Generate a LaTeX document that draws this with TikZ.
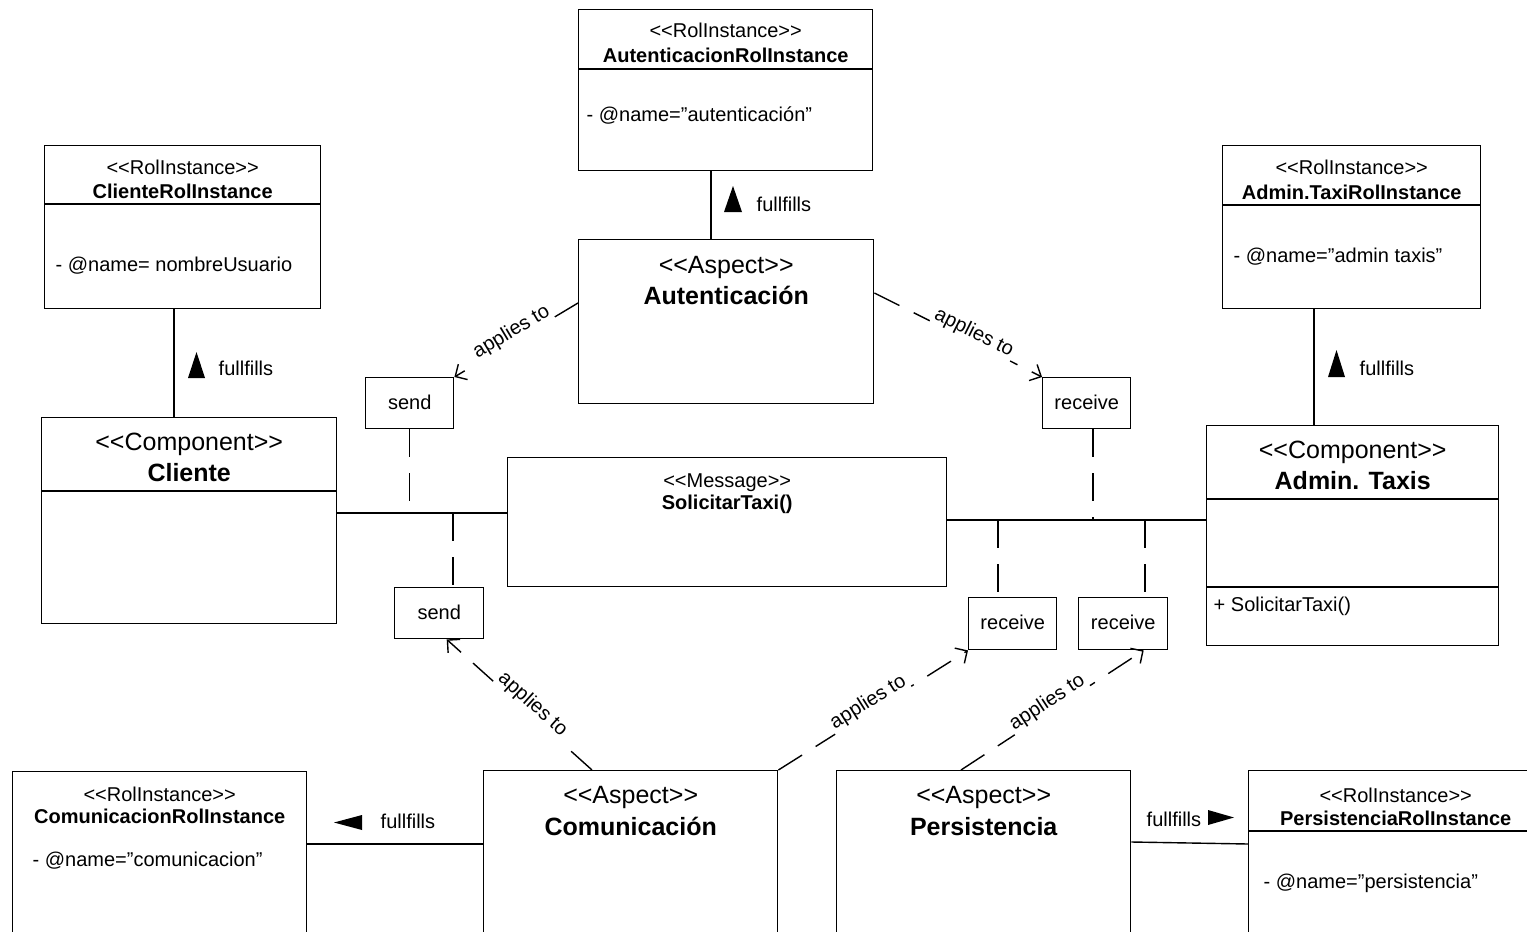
\documentclass[tikz,border=0pt]{standalone}
\usepackage{fontspec}
\setmainfont{Liberation Sans}[Ligatures=TeXOff]
\usetikzlibrary{arrows.meta,calc}
\begin{document}
\begin{tikzpicture}[x=1pt,y=-1pt,line width=1.4pt,
  box/.style={draw, rectangle, anchor=north west, inner sep=0pt},
  sm/.style={font=\fontsize{20}{24}\selectfont, inner sep=0pt},
  smb/.style={font=\fontsize{20}{24}\selectfont\bfseries, inner sep=0pt},
  bg/.style={font=\fontsize{25}{30}\selectfont, inner sep=0pt},
  bgb/.style={font=\fontsize{25}{30}\selectfont\bfseries, inner sep=0pt},
  dsh/.style={dash pattern=on 28pt off 16pt},
  appl/.style={dsh, -{Straight Barb[length=9pt,width=18pt]}},
  lbl/.style={font=\fontsize{20}{24}\selectfont, sloped, fill=white, inner sep=2pt, above=-3pt}
]
\useasboundingbox (0,0) rectangle (1527,932);
\fill[white] (0,0) rectangle (1527,932);
\clip (0,0) rectangle (1527,932);

% ---------- boxes ----------
\node[box, minimum width=294pt, minimum height=161pt] (autri) at (578,9) {};
\node[box, minimum width=276pt, minimum height=163pt] (clri) at (44,145) {};
\node[box, minimum width=258pt, minimum height=163pt] (admri) at (1222,145) {};
\node[box, minimum width=295pt, minimum height=164pt] (autasp) at (578,239) {};
\node[box, minimum width=88pt, minimum height=51pt] (send1) at (365,377) {};
\node[box, minimum width=88pt, minimum height=51pt] (recv1) at (1042,377) {};
\node[box, minimum width=295pt, minimum height=206pt] (cli) at (41,417) {};
\node[box, minimum width=439pt, minimum height=129pt] (msg) at (507,457) {};
\node[box, minimum width=292pt, minimum height=220pt] (adm) at (1206,425) {};
\node[box, minimum width=89pt, minimum height=51pt] (send2) at (394,587) {};
\node[box, minimum width=88pt, minimum height=52pt] (recv2) at (968,597) {};
\node[box, minimum width=89pt, minimum height=52pt] (recv3) at (1078,597) {};
\node[box, minimum width=294pt, minimum height=200pt] (comri) at (12,771) {};
\node[box, minimum width=294pt, minimum height=200pt] (comasp) at (483,770) {};
\node[box, minimum width=294pt, minimum height=200pt] (perasp) at (836,770) {};
\node[box, minimum width=294pt, minimum height=200pt] (perri) at (1248,770) {};

% ---------- separators ----------
\draw ([yshift=-60pt]autri.north west) -- ([yshift=-60pt]autri.north east);
\draw ([yshift=-59pt]clri.north west) -- ([yshift=-59pt]clri.north east);
\draw ([yshift=-60pt]admri.north west) -- ([yshift=-60pt]admri.north east);
\draw ([yshift=-74pt]cli.north west) -- ([yshift=-74pt]cli.north east);
\draw ([yshift=-74pt]adm.north west) -- ([yshift=-74pt]adm.north east);
\draw ([yshift=-162pt]adm.north west) -- ([yshift=-162pt]adm.north east);
\draw ([yshift=-61pt]perri.north west) -- ([yshift=-61pt]perri.north east);

% ---------- texts ----------
\node[sm, anchor=base] (autri-s) at ([yshift=-28pt]autri.north) {<<RolInstance>>};
\node[smb, anchor=base] (autri-n) at ([yshift=-53pt]autri.north) {AutenticacionRolInstance};
\node[sm, anchor=base west] (autri-a) at ([xshift=8pt,yshift=-112pt]autri.north west) {- @name=”autenticación”};

\node[sm, anchor=base] (clri-s) at ([yshift=-29pt]clri.north) {<<RolInstance>>};
\node[smb, anchor=base] (clri-n) at ([yshift=-53pt]clri.north) {ClienteRolInstance};
\node[sm, anchor=base west] (clri-a) at ([xshift=11pt,yshift=-126pt]clri.north west) {- @name= nombreUsuario};

\node[sm, anchor=base] (admri-s) at ([yshift=-29pt]admri.north) {<<RolInstance>>};
\node[smb, anchor=base] (admri-n) at ([yshift=-54pt]admri.north) {Admin.TaxiRolInstance};
\node[sm, anchor=base west] (admri-a) at ([xshift=11pt,yshift=-117pt]admri.north west) {- @name=”admin taxis”};

\node[bg, anchor=base] (autasp-s) at ([yshift=-34pt]autasp.north) {<<Aspect>>};
\node[bgb, anchor=base] (autasp-n) at ([yshift=-65pt]autasp.north) {Autenticación};

\node[sm, anchor=base] (send1-t) at ([yshift=-32pt]send1.north) {send};
\node[sm, anchor=base] (recv1-t) at ([yshift=-32pt]recv1.north) {receive};
\node[sm, anchor=base] (send2-t) at ([yshift=-32pt]send2.north) {send};
\node[sm, anchor=base] (recv2-t) at ([yshift=-32pt]recv2.north) {receive};
\node[sm, anchor=base] (recv3-t) at ([yshift=-32pt]recv3.north) {receive};

\node[bg, anchor=base] (cli-s) at ([yshift=-33pt]cli.north) {<<Component>>};
\node[bgb, anchor=base] (cli-n) at ([yshift=-64pt]cli.north) {Cliente};

\node[sm, anchor=base] (msg-s) at ([yshift=-30pt]msg.north) {<<Message>>};
\node[smb, anchor=base] (msg-n) at ([yshift=-52pt]msg.north) {SolicitarTaxi()};

\node[bg, anchor=base] (adm-s) at ([yshift=-33pt]adm.north) {<<Component>>};
\node[bgb, anchor=base] (adm-n) at ([yshift=-64pt]adm.north) {Admin. Taxis};
\node[sm, anchor=base west] (adm-o) at ([xshift=7pt,yshift=-186pt]adm.north west) {+ SolicitarTaxi()};

\node[sm, anchor=base] (comri-s) at ([yshift=-30pt]comri.north) {<<RolInstance>>};
\node[smb, anchor=base] (comri-n) at ([yshift=-52pt]comri.north) {ComunicacionRolInstance};
\node[sm, anchor=base west] (comri-a) at ([xshift=20pt,yshift=-95pt]comri.north west) {- @name=”comunicacion”};

\node[bg, anchor=base] (comasp-s) at ([yshift=-33pt]comasp.north) {<<Aspect>>};
\node[bgb, anchor=base] (comasp-n) at ([yshift=-65pt]comasp.north) {Comunicación};

\node[bg, anchor=base] (perasp-s) at ([yshift=-33pt]perasp.north) {<<Aspect>>};
\node[bgb, anchor=base] (perasp-n) at ([yshift=-65pt]perasp.north) {Persistencia};

\node[sm, anchor=base] (perri-s) at ([yshift=-32pt]perri.north) {<<RolInstance>>};
\node[smb, anchor=base] (perri-n) at ([yshift=-55pt]perri.north) {PersistenciaRolInstance};
\node[sm, anchor=base west] (perri-a) at ([xshift=15pt,yshift=-118pt]perri.north west) {- @name=”persistencia”};

% ---------- fullfills connectors ----------
\coordinate (k1) at (711,0);
\coordinate (k2) at (174,0);
\coordinate (k3) at (1314,0);
\draw (autri.south -| k1) -- (autasp.north -| k1);
\draw (clri.south -| k2) -- (cli.north -| k2);
\draw (admri.south -| k3) -- (adm.north -| k3);
\coordinate (b1) at (0,844);
\draw (comri.east |- b1) -- (comasp.west |- b1);
\draw ([yshift=-72pt]perasp.north east) -- ([yshift=-74pt]perri.north west);

\fill (724,212) -- (733,186) -- (742,212) -- cycle;
\fill (188,378) -- (196.5,352) -- (205,378) -- cycle;
\fill (1328,377) -- (1336.5,350) -- (1345,377) -- cycle;
\fill (334,822.5) -- (362,815) -- (362,830) -- cycle;
\fill (1234,817.5) -- (1208,810) -- (1208,825) -- cycle;

\node[sm, anchor=base west] (ff1) at (756,211) {fullfills};
\node[sm, anchor=base west] (ff2) at (218,375) {fullfills};
\node[sm, anchor=base west] (ff3) at (1359,375) {fullfills};
\node[sm, anchor=base west] (ff4) at (380,828) {fullfills};
\node[sm, anchor=base west] (ff5) at (1146,826) {fullfills};

% ---------- message lines ----------
\coordinate (m1) at (0,513);
\coordinate (m2) at (0,520);
\draw (cli.east |- m1) -- (msg.west |- m1);
\draw (msg.east |- m2) -- (adm.west |- m2);

\coordinate (d2) at (453,0);
\coordinate (d3) at (1093,0);
\coordinate (d4) at (998,0);
\coordinate (d5) at (1145,0);
\draw[dsh] (send1.south) -- (send1.south |- m1);
\draw[dsh] (m1 -| d2) -- (send2.north -| d2);
\draw[dsh] (recv1.south -| d3) -- (m2 -| d3);
\draw[dsh] (m2 -| d4) -- (recv2.north -| d4);
\draw[dsh] (m2 -| d5) -- (recv3.north -| d5);

% ---------- applies to ----------
\draw[appl] ([yshift=-64pt]autasp.north west) -- node[lbl] (at1) {applies to} (send1.north east);
\draw[appl] ([yshift=-54pt]autasp.north east) -- node[lbl, pos=0.57] (at2) {applies to} (recv1.north west);
\draw[appl] ([xshift=109pt]comasp.north west) -- node[lbl, pos=0.45] (at3) {applies to} ([xshift=7.5pt]send2.south);
\draw[appl] (comasp.north east) -- node[lbl] (at4) {applies to} (recv2.south west);
\draw[appl] ([xshift=125pt]perasp.north west) -- node[lbl] (at5) {applies to} ([xshift=20.5pt]recv3.south);
\end{tikzpicture}
\end{document}
